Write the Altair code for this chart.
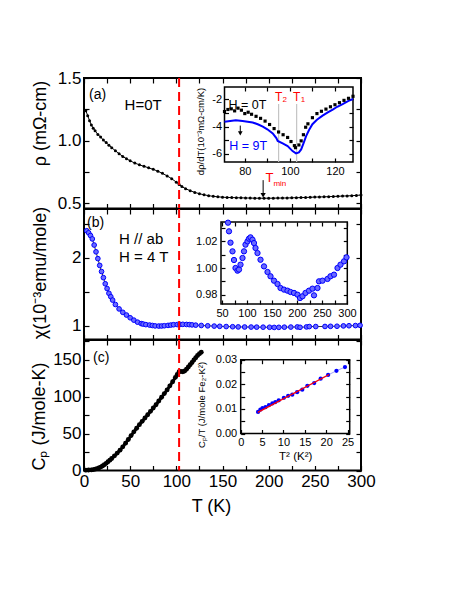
import altair as alt
import pandas as pd

FONT = "Liberation Sans"
W, H = 277, 130.5
TS = 5
TSI = 4

# ---------------- data ----------------
rho_T = [2, 4, 6, 8, 10, 12, 15, 18, 21, 24, 27, 30, 34, 38, 42, 46, 50, 55, 60, 65, 70, 75, 80, 85, 90,
         95, 100, 103, 106, 110, 115, 120, 125, 130, 135, 140, 145, 150, 155, 160, 165, 170, 175, 180,
         185, 190, 195, 200, 205, 210, 215, 220, 225, 230, 235, 240, 245, 250, 255, 260, 265, 270, 275,
         280, 285, 290, 295, 300]
rho_v = [1.24, 1.20, 1.16, 1.125, 1.10, 1.08, 1.05, 1.03, 1.005, 0.985, 0.965, 0.945, 0.92, 0.897, 0.875,
         0.857, 0.84, 0.822, 0.808, 0.796, 0.784, 0.772, 0.757, 0.74, 0.72, 0.697, 0.67, 0.652, 0.635,
         0.618, 0.602, 0.588, 0.578, 0.569, 0.562, 0.557, 0.553, 0.550, 0.548, 0.547, 0.546, 0.545,
         0.544, 0.543, 0.5425, 0.542, 0.542, 0.542, 0.5425, 0.543, 0.5435, 0.544, 0.545, 0.546, 0.547,
         0.548, 0.5495, 0.551, 0.552, 0.553, 0.5545, 0.556, 0.5575, 0.559, 0.5605, 0.562, 0.5645, 0.567]

chi_T = [3, 5, 7, 9, 11, 13, 15, 17, 19, 21, 23, 25, 27, 29, 31, 34, 38, 42, 46, 50, 54, 58, 62, 64, 67,
         71, 74, 77, 81, 84, 87, 91, 94, 97, 101, 104, 107, 111, 114, 117, 121, 127, 134, 141, 147, 154,
         161, 167, 174, 181, 187, 194, 201, 206, 211, 217, 224, 231, 234, 241, 244, 251, 261, 267, 274,
         281, 287, 294, 299]
chi_v = [2.40, 2.37, 2.33, 2.28, 2.19, 2.09, 1.99, 1.89, 1.80, 1.71, 1.62, 1.55, 1.48, 1.43, 1.38, 1.315,
         1.25, 1.20, 1.16, 1.12, 1.085, 1.055, 1.034, 1.0275, 1.019, 1.0125, 1.006, 1.000, 0.998, 0.9988,
         1.0025, 1.0075, 1.0125, 1.0175, 1.020, 1.022, 1.023, 1.0212, 1.0187, 1.015, 1.0112, 1.0062,
         1.0012, 0.997, 0.9938, 0.9905, 0.988, 0.985, 0.9838, 0.983, 0.982, 0.9813, 0.980, 0.9775,
         0.9788, 0.9813, 0.983, 0.9845, 0.9795, 0.985, 0.990, 0.9905, 0.9918, 0.9938, 0.995, 1.000,
         1.0025, 1.005, 1.008]

cp_T = [2, 5, 8, 10, 12, 14, 16, 18, 20, 22, 24, 26, 28, 30, 33, 36, 39, 42, 45, 48, 51, 54, 57, 60, 63,
        66, 69, 72, 75, 78, 81, 84, 87, 90, 93, 96, 99, 101, 103, 105, 107, 109, 111, 113, 115, 117,
        119, 121, 123, 125, 127]
cp_v = [0.5, 0.6, 0.8, 1.2, 1.8, 2.6, 3.5, 4.6, 6, 7.8, 9.7, 11.8, 14, 16.3, 19.8, 23.5, 27.5, 32, 37,
        42, 47.2, 52.3, 57.2, 62, 66.5, 71, 75.5, 80, 84.5, 89, 94, 99, 104, 109, 114.5, 120, 126, 130,
        133.5, 134, 133.5, 134.5, 137, 140, 143, 146, 149.5, 152.5, 155.5, 158, 160]

# inset (a): drho/dT
d0_T = [71, 72.5, 74, 75.5, 77, 78.5, 80, 81.5, 83, 85, 87, 89, 91, 93, 95, 97, 99, 100.5, 102, 102.5,
        104, 105, 106, 107, 108, 110, 112, 114, 116, 118, 120, 122, 124, 126, 128]
d0_v = [-2.9, -2.75, -2.7, -2.85, -2.65, -2.8, -3.05, -2.95, -3.1, -3.25, -3.4, -3.6, -3.85, -4.15, -4.4,
        -4.6, -4.8, -5.1, -5.4, -5.55, -5.35, -5.05, -4.6, -4.05, -3.8, -3.35, -3.05, -2.88, -2.72,
        -2.55, -2.4, -2.25, -2.08, -1.93, -1.78]
d9_T = [71, 76, 79, 83.5, 86, 88, 90, 92.4, 94, 94.6, 96.8, 99, 101.2, 102.7, 104, 105, 106, 107.2,
        108.5, 110, 112, 114.5, 117, 119, 121, 123.4, 126, 128]
d9_v = [-3.65, -3.53, -3.6, -3.7, -3.85, -4.0, -4.2, -4.5, -4.85, -5.06, -5.24, -5.43, -5.8, -5.97,
        -5.9, -5.68, -5.25, -4.7, -4.25, -3.83, -3.5, -3.2, -2.95, -2.76, -2.55, -2.35, -2.12, -1.98]

# inset (c): Cp/T vs T^2
c_x = [4.06, 4.6, 5.1, 5.8, 6.6, 7.4, 8.1, 8.9, 10.1, 11.1, 12.06, 13.2, 14.4, 15.6, 17.2, 18.7,
       20.45, 22.4, 24.4]
c_v = [0.00878, 0.0097, 0.0103, 0.0107, 0.0115, 0.0122, 0.0128, 0.0135, 0.0145, 0.0153, 0.0158,
       0.0168, 0.0178, 0.0194, 0.0205, 0.0223, 0.0238, 0.0255, 0.027]
fit_x = [4.0, 20.7]
fit_v = [0.0086, 0.0240]

T_trans = 103
T1, T2 = 103, 95
T_min = 194

x_ticks = list(range(0, 301, 25))

LBL = 17     # main tick labels
TTL = 18     # main axis titles
ILBL = 11    # inset tick labels


# ---------------- helpers ----------------
def axis(orient, values, step=None, fmt=None, labels=True, offset=0, ts=TS, size=LBL, title=None, **extra):
    kw = dict(orient=orient, values=values, offset=offset, tickSize=ts, tickWidth=1.2,
              tickColor="black", domain=False, grid=False, labels=labels,
              labelFont=FONT, labelFontSize=size, labelColor="black",
              labelFlush=False, labelOverlap=False, labelPadding=3,
              titleFont=FONT, titleFontWeight="normal", titleColor="black", title=title)
    if fmt is not None:
        kw["format"] = fmt
    if step is not None:
        kw["labelExpr"] = ("abs(datum.value/%g - round(datum.value/%g)) < 0.001 ? datum.label : ''"
                           % (step, step))
    kw.update(extra)
    return alt.Axis(**kw)


def sc(dom, rng=None):
    if rng is None:
        return alt.Scale(domain=dom, nice=False, zero=False)
    return alt.Scale(domain=dom, range=rng, nice=False, zero=False)


def X(s, ax=None):
    return alt.X("x:Q", scale=s, axis=ax)


def Y(s, ax=None):
    return alt.Y("y:Q", scale=s, axis=ax)


def txt(xv, yv, s, sx, sy, size, color="black", align="center", dx=0, dy=0):
    return alt.Chart(pd.DataFrame({"x": [xv], "y": [yv], "t": [s]})).mark_text(
        font=FONT, fontSize=size, color=color, align=align, baseline="middle", dx=dx, dy=dy
    ).encode(x=X(sx), y=Y(sy), text="t:N")


def vrule(xv, sx):
    return alt.Chart(pd.DataFrame({"x": [xv]})).mark_rule(
        color="#ff0000", strokeDash=[9, 5], strokeWidth=2).encode(x=X(sx))


def arrow(xv, y1, y2, sx, sy, size=28):
    d = pd.DataFrame({"x": [xv], "y": [y1], "y2": [y2]})
    r = alt.Chart(d).mark_rule(color="black", strokeWidth=1).encode(x=X(sx), y=Y(sy), y2="y2:Q")
    h = alt.Chart(d).mark_point(shape="triangle-down", filled=True, color="black", size=size,
                                opacity=1).encode(x=X(sx), y=alt.Y("y2:Q", scale=sy, axis=None))
    return [r, h]


def axes_child(xdom, ydom, sx, sy, xax, yax):
    return alt.Chart(pd.DataFrame({"x": xdom, "y": ydom})).mark_point(opacity=0).encode(
        x=X(sx, xax), y=Y(sy, yax))


def frame(xdom, ydom, sx, sy):
    d = pd.DataFrame({"x": [xdom[0]], "x2": [xdom[1]], "y": [ydom[0]], "y2": [ydom[1]]})
    return alt.Chart(d).mark_rect(fillOpacity=0, stroke="black", strokeWidth=1.5).encode(
        x=X(sx), x2="x2:Q", y=Y(sy), y2="y2:Q")


title_kw = dict(titleFontSize=TTL)

# ---------------- panel (a) ----------------
sxa = sc([0, 300])
ya_dom = [0.46, 1.5]
sya = sc(ya_dom)
ya_ticks = [0.5, 0.75, 1.0, 1.25, 1.5]
df_rho = pd.DataFrame({"x": rho_T, "y": rho_v})

main_a = alt.layer(
    alt.Chart(df_rho).mark_line(color="black", strokeWidth=1).encode(x=X(sxa), y=Y(sya)),
    alt.Chart(df_rho).mark_circle(color="black", size=9, opacity=1).encode(x=X(sxa), y=Y(sya)),
    vrule(T_trans, sxa),
    txt(5.4, 1.367, "(a)", sxa, sya, 14, align="left"),
    txt(64, 1.283, "H=0T", sxa, sya, 15),
    *arrow(T_min, 0.686, 0.566, sxa, sya),
    txt(200.8, 0.706, "T", sxa, sya, 13, color="#ff0000"),
    txt(205.1, 0.656, "min", sxa, sya, 8, color="#ff0000", align="left"),
)
bl_a = axes_child([0, 300], ya_dom, sxa, sya,
                  axis("bottom", x_ticks, labels=False, offset=-TS),
                  axis("left", ya_ticks, step=0.5, fmt=".1f", offset=-TS, title="ρ (mΩ-cm)",
                       titleX=-40, titleY=45, **title_kw))
tr_a = axes_child([0, 300], ya_dom, sxa, sya,
                  axis("top", x_ticks, labels=False, offset=-TS),
                  axis("right", ya_ticks, labels=False, offset=-TS))

# inset (a)
ia_x0, ia_x1, ia_yt, ia_yb = 140.5, 269, 9, 84
ixa_dom, iya_dom = [71, 128], [-6.6, -1.1]
ixa = sc(ixa_dom, [ia_x0, ia_x1])
iya = sc(iya_dom, [ia_yb, ia_yt])
ia_xt = [80, 90, 100, 110, 120]
ia_ytv = [-6, -5, -4, -3, -2]
inset_a = alt.layer(
    frame(ixa_dom, iya_dom, ixa, iya),
    alt.Chart(pd.DataFrame({"x": [T2, T1], "y": [-2.35, -2.35], "y2": [-6.6, -6.6]})).mark_rule(
        color="#c4c4c4", strokeWidth=1.2).encode(x=X(ixa), y=Y(iya), y2="y2:Q"),
    alt.Chart(pd.DataFrame({"x": d9_T, "y": d9_v})).mark_line(color="#0000ff", strokeWidth=2).encode(
        x=X(ixa), y=Y(iya)),
    alt.Chart(pd.DataFrame({"x": d0_T, "y": d0_v})).mark_square(color="black", size=10, opacity=1).encode(
        x=X(ixa), y=Y(iya)),
    txt(81.2, -2.45, "H = 0T", ixa, iya, 12.5),
    txt(81.5, -5.4, "H = 9T", ixa, iya, 12.5, color="#0000ff"),
    txt(T2, -1.85, "T", ixa, iya, 12, color="#ff0000"),
    txt(T2, -1.85, "2", ixa, iya, 8, color="#ff0000", align="left", dx=4, dy=3),
    txt(T1, -1.85, "T", ixa, iya, 12, color="#ff0000"),
    txt(T1, -1.85, "1", ixa, iya, 8, color="#ff0000", align="left", dx=4, dy=3),
    *arrow(78, -3.93, -4.5, ixa, iya, size=22),
)
inset_a_bl = axes_child(ixa_dom, iya_dom, ixa, iya,
                        axis("bottom", ia_xt, step=20, fmt="d", offset=ia_yb - TSI - H, ts=TSI, size=ILBL),
                        axis("left", ia_ytv, offset=-(ia_x0 + TSI), ts=TSI, size=ILBL,
                             labelExpr="datum.value === -2 ? '-2' : datum.value === -4 ? '-4' : datum.value === -6 ? '-6' : ''",
                             title="dρ/dT(10⁻³mΩ-cm/K)", titleFontSize=9.5, titleX=-23, titleY=53))
inset_a_tr = axes_child(ixa_dom, iya_dom, ixa, iya,
                        axis("top", ia_xt, labels=False, offset=-(ia_yt + TSI), ts=TSI),
                        axis("right", ia_ytv, labels=False, offset=ia_x1 - TSI - W, ts=TSI))

panel_a = alt.layer(main_a, bl_a, tr_a, inset_a, inset_a_bl, inset_a_tr).resolve_scale(
    x="independent", y="independent").properties(width=W, height=H)

# ---------------- panel (b) ----------------
sxb = sc([0, 300])
yb_dom = [0.8, 2.72]
syb = sc(yb_dom)
yb_ticks = [1, 1.5, 2, 2.5]
df_chi = pd.DataFrame({"x": chi_T, "y": chi_v})
blue_pt = dict(fill="#6a6aff", stroke="#0000ff", strokeWidth=1, opacity=1)

main_b = alt.layer(
    alt.Chart(df_chi).mark_line(color="black", strokeWidth=0.8).encode(x=X(sxb), y=Y(syb)),
    alt.Chart(df_chi).mark_circle(size=22, **blue_pt).encode(x=X(sxb), y=Y(syb)),
    vrule(T_trans, sxb),
    txt(3.3, 2.51, "(b)", sxb, syb, 14, align="left"),
    txt(38, 2.278, "H // ab", sxb, syb, 15, align="left"),
    txt(38, 2.01, "H = 4 T", sxb, syb, 15, align="left"),
)
bl_b = axes_child([0, 300], yb_dom, sxb, syb,
                  axis("bottom", x_ticks, labels=False, offset=-TS),
                  axis("left", yb_ticks, offset=-TS, title="χ(10⁻³emu/mole)",
                       labelExpr="datum.value === 1 ? '1' : datum.value === 2 ? '2' : ''",
                       titleX=-40, titleY=63.5, **title_kw))
tr_b = axes_child([0, 300], yb_dom, sxb, syb,
                  axis("top", x_ticks, labels=False, offset=-TS),
                  axis("right", yb_ticks, labels=False, offset=-TS))

ib_x0, ib_x1, ib_yt, ib_yb = 137, 263.3, 13, 95
ixb_dom, iyb_dom = [48, 300.6], [0.973, 1.0345]
ixb = sc(ixb_dom, [ib_x0, ib_x1])
iyb = sc(iyb_dom, [ib_yb, ib_yt])
ib_xt = list(range(50, 301, 25))
ib_ytv = [0.98, 0.99, 1.00, 1.01, 1.02, 1.03]
inset_b = alt.layer(
    frame(ixb_dom, iyb_dom, ixb, iyb),
    alt.Chart(df_chi).transform_filter(
        (alt.datum.x >= 55) & (alt.datum.y <= 1.0345)).mark_circle(size=28, **blue_pt).encode(
        x=X(ixb), y=Y(iyb)),
)
inset_b_bl = axes_child(ixb_dom, iyb_dom, ixb, iyb,
                        axis("bottom", ib_xt, step=50, fmt="d", offset=ib_yb - TSI - H, ts=TSI, size=ILBL),
                        axis("left", ib_ytv, step=0.02, fmt=".2f", offset=-(ib_x0 + TSI), ts=TSI, size=ILBL,
                             labelPadding=4))
inset_b_tr = axes_child(ixb_dom, iyb_dom, ixb, iyb,
                        axis("top", ib_xt, labels=False, offset=-(ib_yt + TSI), ts=TSI),
                        axis("right", ib_ytv, labels=False, offset=ib_x1 - TSI - W, ts=TSI))

panel_b = alt.layer(main_b, bl_b, tr_b, inset_b, inset_b_bl, inset_b_tr).resolve_scale(
    x="independent", y="independent").properties(width=W, height=H)

# ---------------- panel (c) ----------------
sxc = sc([0, 300])
yc_dom = [0, 176.5]
syc = sc(yc_dom)
yc_ticks = [0, 25, 50, 75, 100, 125, 150, 175]
df_cp = pd.DataFrame({"x": cp_T, "y": cp_v})

main_c = alt.layer(
    alt.Chart(df_cp).mark_line(color="black", strokeWidth=3).encode(x=X(sxc), y=Y(syc)),
    alt.Chart(df_cp).mark_circle(color="black", size=24, opacity=1).encode(x=X(sxc), y=Y(syc)),
    vrule(T_trans, sxc),
    txt(9.75, 152.4, "(c)", sxc, syc, 14, align="left"),
)
bl_c = axes_child([0, 300], yc_dom, sxc, syc,
                  axis("bottom", x_ticks, step=50, fmt="d", offset=-TS, title="T (K)",
                       titleX=127, titleY=32, **title_kw),
                  axis("left", yc_ticks, step=50, fmt="d", offset=-TS, title="Cₚ (J/mole-K)",
                       titleX=-41, titleY=76, **title_kw))
tr_c = axes_child([0, 300], yc_dom, sxc, syc,
                  axis("top", x_ticks, labels=False, offset=-TS),
                  axis("right", yc_ticks, labels=False, offset=-TS))

ic_x0, ic_x1, ic_yt, ic_yb = 156.7, 265.7, 19.7, 93.5
ixc_dom, iyc_dom = [0, 25.5], [0, 0.03]
ixc = sc(ixc_dom, [ic_x0, ic_x1])
iyc = sc(iyc_dom, [ic_yb, ic_yt])
ic_xt = [0, 5, 10, 15, 20, 25]
ic_ytv = [0, 0.005, 0.01, 0.015, 0.02, 0.025, 0.03]
inset_c = alt.layer(
    frame(ixc_dom, iyc_dom, ixc, iyc),
    alt.Chart(pd.DataFrame({"x": c_x, "y": c_v})).mark_line(color="#8c8cff", strokeWidth=0.8).encode(
        x=X(ixc), y=Y(iyc)),
    alt.Chart(pd.DataFrame({"x": c_x, "y": c_v})).mark_circle(color="#0000ff", size=18, opacity=1).encode(
        x=X(ixc), y=Y(iyc)),
    alt.Chart(pd.DataFrame({"x": fit_x, "y": fit_v})).mark_line(color="#ff0000", strokeWidth=1.3).encode(
        x=X(ixc), y=Y(iyc)),
)
inset_c_bl = axes_child(ixc_dom, iyc_dom, ixc, iyc,
                        axis("bottom", ic_xt, fmt="d", offset=ic_yb - TSI - H, ts=TSI, size=ILBL,
                             title="T² (K²)", titleFontSize=11.5, titlePadding=3),
                        axis("left", ic_ytv, step=0.01, fmt=".2f", offset=-(ic_x0 + TSI), ts=TSI, size=ILBL,
                             labelPadding=4, title="Cₚ/T (J/mole Fe₂-K²)", titleFontSize=9.5,
                             titleX=-38, titleY=64.5))
inset_c_tr = axes_child(ixc_dom, iyc_dom, ixc, iyc,
                        axis("top", ic_xt, labels=False, offset=-(ic_yt + TSI), ts=TSI),
                        axis("right", ic_ytv, labels=False, offset=ic_x1 - TSI - W, ts=TSI))

panel_c = alt.layer(main_c, bl_c, tr_c, inset_c, inset_c_bl, inset_c_tr).resolve_scale(
    x="independent", y="independent").properties(width=W, height=H)

chart = alt.vconcat(panel_a, panel_b, panel_c, spacing=0, bounds="flush").properties(
    padding={"left": 20, "top": 60, "right": 5, "bottom": 5},
    background="white",
).configure_view(stroke="black", strokeWidth=2)

chart.save("out.html", embed_options={"renderer": "svg", "actions": False})
